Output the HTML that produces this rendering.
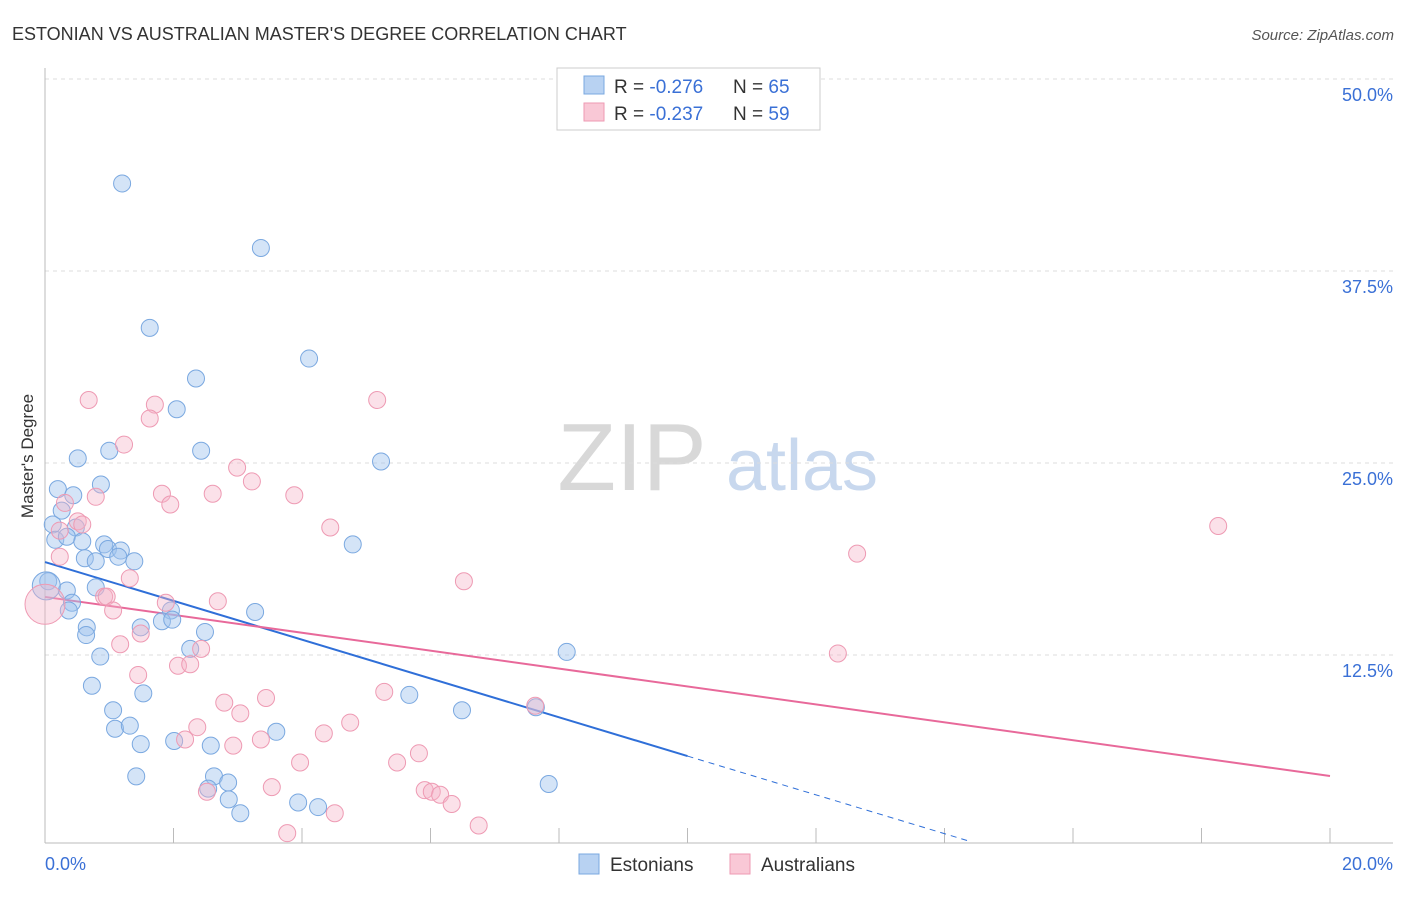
<!DOCTYPE html>
<html><head><meta charset="utf-8"><style>
body{margin:0;background:#fff;font-family:"Liberation Sans",sans-serif;}
svg text{font-family:"Liberation Sans",sans-serif;}
</style></head><body>
<svg id="chart" width="1406" height="892" xmlns="http://www.w3.org/2000/svg">
<text x="12" y="40" font-size="18" fill="#333">ESTONIAN VS AUSTRALIAN MASTER'S DEGREE CORRELATION CHART</text>
<text x="1394" y="40" font-size="15" fill="#555" font-style="italic" text-anchor="end">Source: ZipAtlas.com</text>
<text transform="translate(33,456) rotate(-90)" font-size="17" fill="#333" text-anchor="middle">Master's Degree</text>
<g>
<text x="632" y="490" font-size="96" fill="#d8d8d8" font-family="Liberation Serif" text-anchor="middle">ZIP</text>
<text x="802" y="490" font-size="72" fill="#c8d8ee" text-anchor="middle">atlas</text>
</g>
<g id="grid"></g><g id="axes"></g><g id="trends"></g><g id="points"></g>
<g>
<rect x="557" y="68" width="263" height="62" fill="#fff" stroke="#ccc"/>
<rect x="584" y="76" width="20" height="18" fill="#b8d2f2" stroke="#7aa8e0"/>
<rect x="584" y="103" width="20" height="18" fill="#f9c8d6" stroke="#ee9ab3"/>
<text x="614" y="93" font-size="19" fill="#333">R = <tspan fill="#3a70d6">-0.276</tspan><tspan x="733">N = </tspan><tspan fill="#3a70d6">65</tspan></text>
<text x="614" y="120" font-size="19" fill="#333">R = <tspan fill="#3a70d6">-0.237</tspan><tspan x="733">N = </tspan><tspan fill="#3a70d6">59</tspan></text>
</g>
<g>
<rect x="579" y="854" width="20" height="20" fill="#b8d2f2" stroke="#7aa8e0"/>
<text x="610" y="871" font-size="19" fill="#333">Estonians</text>
<rect x="730" y="854" width="20" height="20" fill="#f9c8d6" stroke="#ee9ab3"/>
<text x="761" y="871" font-size="19" fill="#333">Australians</text>
</g>
</svg>
<script>
const xTicks=[0,2,4,6,8,10,12,14,16,18,20];
const yTicks=[12.5,25,37.5,50];
const yTickLabels=["12.5%","25.0%","37.5%","50.0%"];
const xLabels=["0.0%","20.0%"];
const estX=[1.20,3.36,1.63,4.11,2.35,2.05,2.43,1.00,0.51,5.23,0.20,0.87,0.44,0.26,0.48,0.12,0.16,0.34,0.58,0.92,0.98,1.18,1.14,1.39,0.62,0.79,4.79,0.05,0.34,0.79,0.42,0.37,1.96,3.27,0.65,1.49,1.82,1.98,0.64,2.49,2.26,0.86,8.12,0.73,1.53,5.67,1.06,1.09,1.32,6.49,7.64,3.60,1.49,2.01,2.58,1.42,2.63,2.85,2.54,7.84,2.86,3.94,4.25,3.04,0.02];
const estY=[43.2,39.0,33.8,31.8,30.5,28.5,25.8,25.8,25.3,25.1,23.3,23.6,22.9,21.9,20.8,21.0,20.0,20.2,19.9,19.7,19.4,19.3,18.9,18.6,18.8,18.6,19.7,17.3,16.7,16.9,15.9,15.4,15.4,15.3,14.3,14.3,14.7,14.8,13.8,14.0,12.9,12.4,12.7,10.5,10.0,9.9,8.9,7.7,7.9,8.9,9.1,7.5,6.7,6.9,6.6,4.6,4.6,4.2,3.8,4.1,3.1,2.9,2.6,2.2,17.0];
const ausX=[0.68,1.71,5.17,1.63,1.23,2.99,1.82,0.79,2.61,3.22,3.88,1.95,0.31,0.51,0.58,4.44,18.26,0.23,0.23,12.64,6.52,1.32,0.92,0.96,2.69,1.88,1.06,1.49,2.43,1.17,12.34,2.07,2.26,1.45,5.28,3.44,2.79,3.04,4.75,2.37,4.34,2.18,3.36,2.93,7.63,5.82,3.97,5.48,3.53,2.52,5.91,6.02,6.15,6.33,4.51,3.77,6.75,0.0];
const ausY=[29.1,28.8,29.1,27.9,26.2,24.7,23.0,22.8,23.0,23.8,22.9,22.3,22.4,21.2,21.0,20.8,20.9,20.6,18.9,19.1,17.3,17.5,16.3,16.3,16.0,15.9,15.4,13.9,12.9,13.2,12.6,11.8,11.9,11.2,10.1,9.7,9.4,8.7,8.1,7.8,7.4,7.0,7.0,6.6,9.2,6.1,5.5,5.5,3.9,3.6,3.7,3.6,3.4,2.8,2.2,0.9,1.4,15.8];
const estTrend=[18.55,-1.263];
const ausTrend=[16.28,-0.583];
const NS="http://www.w3.org/2000/svg";
const X=v=>45+v*64.25, Y=v=>847-v*15.36;
function mk(p,t,a){const e=document.createElementNS(NS,t);for(const k in a)e.setAttribute(k,a[k]);document.getElementById(p).appendChild(e);return e;}
yTicks.forEach((t,i)=>{
 const l=mk('grid','line',{x1:45,x2:1393,y1:Y(t),y2:Y(t),stroke:'#ddd','stroke-dasharray':'4,4'});
 
 
 const tx=mk('grid','text',{x:1393,y:Y(t)+22,'font-size':18,fill:'#3a70d6','text-anchor':'end'});
 tx.textContent=yTickLabels[i];
 
 
});
const ax=mk('axes','line',{x1:45,x2:45,y1:68,y2:843,stroke:'#bbb'});


const bx=mk('axes','line',{x1:45,x2:1393,y1:843,y2:843,stroke:'#bbb'});


xTicks.forEach(t=>{const l=mk('axes','line',{x1:X(t),x2:X(t),y1:828,y2:843,stroke:'#bbb'});
 
 });
[[0,'start',45],[20,'end',1393]].forEach((d,i)=>{const t=mk('axes','text',{x:d[2],y:870,'font-size':18,fill:'#3a70d6','text-anchor':d[1]});t.textContent=xLabels[i];
 
 });
estX.forEach((x,i)=>{const c=mk('points','circle',{cx:X(x),cy:Y(estY[i]),r:i==estX.length-1?14:8.5,fill:'rgba(160,195,238,0.45)',stroke:'#7aa8e0','stroke-width':1});
 
 });
ausX.forEach((x,i)=>{const c=mk('points','circle',{cx:X(x),cy:Y(ausY[i]),r:i==ausX.length-1?20:8.5,fill:'rgba(246,180,200,0.4)',stroke:'#ee9ab3','stroke-width':1});
 
 });
const f=(t,x)=>t[0]+t[1]*x;
let l1=mk('trends','line',{x1:X(0),y1:Y(f(estTrend,0)),x2:X(10),y2:Y(f(estTrend,10)),stroke:'#2f6fd8','stroke-width':2});


let l2=mk('trends','line',{x1:X(10),y1:Y(f(estTrend,10)),x2:X(14.4),y2:Y(f(estTrend,14.4)),stroke:'#2f6fd8','stroke-width':1,'stroke-dasharray':'6,5'});


let l3=mk('trends','line',{x1:X(0),y1:Y(f(ausTrend,0)),x2:X(20),y2:Y(f(ausTrend,20)),stroke:'#e8699a','stroke-width':2});


</script>
</body></html>
